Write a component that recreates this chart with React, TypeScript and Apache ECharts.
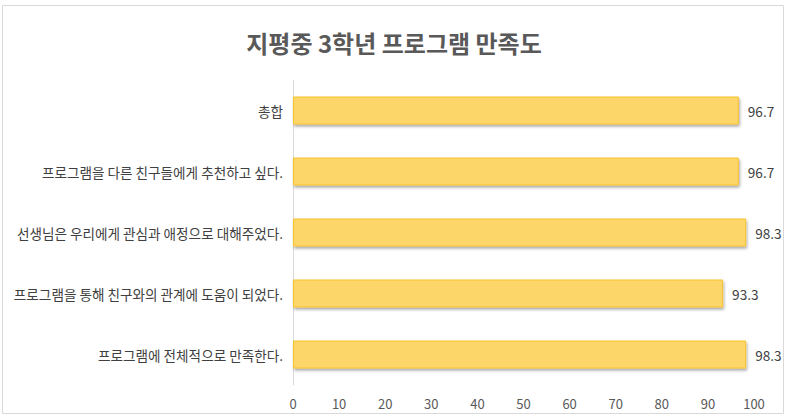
import React, { useEffect, useRef } from "react";
import * as echarts from "echarts";

const title = "지평중 3학년 프로그램 만족도";
const categories = [
  "프로그램에 전체적으로 만족한다.",
  "프로그램을 통해 친구와의 관계에 도움이 되었다.",
  "선생님은 우리에게 관심과 애정으로 대해주었다.",
  "프로그램을 다른 친구들에게 추천하고 싶다.",
  "총합",
];
const values = [98.3, 93.3, 98.3, 96.7, 96.7];
const xTicks = { min: 0, max: 100, interval: 10 };

export default function App() {
  const ref = useRef<HTMLDivElement>(null);
  useEffect(() => {
    if (!ref.current) return;
    const chart = echarts.init(ref.current, undefined, { renderer: "svg" });
    const font = "'Noto Sans CJK KR', 'Noto Sans', sans-serif";
    chart.setOption({
      animation: false,
      backgroundColor: "#ffffff",
      textStyle: { fontFamily: font },
      title: {
        text: title,
        left: "center",
        top: 25,
        textStyle: { fontSize: 24, fontWeight: "bold", color: "#595959", fontFamily: font },
      },
      graphic: [
        {
          type: "rect",
          shape: { x: 2.5, y: 5.5, width: 781, height: 408 },
          style: { fill: "none", stroke: "#d9d9d9", lineWidth: 1 },
          silent: true,
        },
      ],
      grid: { left: 293, right: 34, top: 80, bottom: 33, containLabel: false },
      xAxis: {
        type: "value",
        min: xTicks.min,
        max: xTicks.max,
        interval: xTicks.interval,
        axisLine: { show: false },
        axisTick: { show: false },
        splitLine: { show: false },
        axisLabel: { color: "#595959", fontSize: 13, margin: 12, fontFamily: font },
      },
      yAxis: {
        type: "category",
        data: categories,
        axisLine: { show: true, lineStyle: { color: "#d9d9d9", width: 1 } },
        axisTick: { show: false },
        axisLabel: { color: "#404040", fontSize: 13.6, margin: 10, fontFamily: font },
      },
      series: [
        {
          type: "bar",
          data: values,
          barWidth: 28,
          itemStyle: {
            color: "#FDD66A",
            borderColor: "#F8C22C",
            borderWidth: 1,
            shadowColor: "rgba(0,0,0,0.35)",
            shadowBlur: 3,
            shadowOffsetX: 1,
            shadowOffsetY: 2,
          },
          label: {
            show: true,
            position: "right",
            distance: 9,
            color: "#404040",
            fontSize: 13.6,
            fontFamily: font,
          },
        },
      ],
    });
    return () => chart.dispose();
  }, []);
  return (
    <div
      ref={ref}
      style={{ position: "fixed", left: 0, top: 0, width: 788, height: 418 }}
    />
  );
}
